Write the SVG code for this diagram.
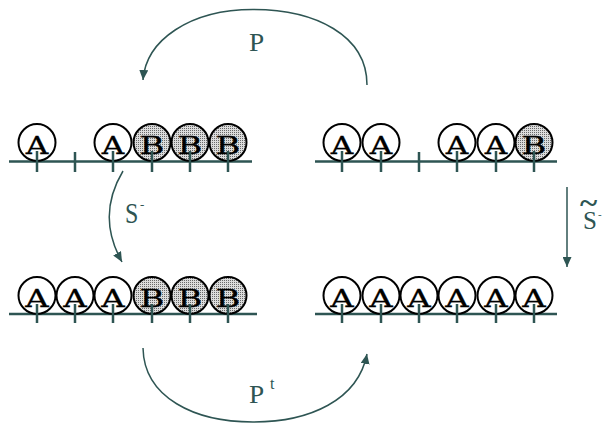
<svg xmlns="http://www.w3.org/2000/svg" width="602" height="423" viewBox="0 0 602 423">
<style>
.base{stroke:#2e5553;stroke-width:2.5;fill:none}
.tick{stroke:#2e5553;stroke-width:2.5}
.ca{fill:#fff;stroke:#000;stroke-width:2}
.cb{fill:url(#dots);stroke:#000;stroke-width:2}
.lt{font-family:"DejaVu Serif","Liberation Serif",serif;font-size:25px;fill:#000;stroke:#000;stroke-width:0.3;text-anchor:middle}
.arr{stroke:#2e5553;stroke-width:1.5;fill:none}
.lab{font-family:"Liberation Serif",serif;fill:#2e5553}
</style>
<defs>
<pattern id="dots" width="2" height="2" patternUnits="userSpaceOnUse">
<rect width="2" height="2" fill="#dcdcdc"/>
<rect width="1" height="1" fill="#6a6a6a"/>
</pattern>
<marker id="ah" markerWidth="11" markerHeight="9" refX="10" refY="4.5" orient="auto" markerUnits="userSpaceOnUse">
<path d="M0,0 L10,4.5 L0,9 z" fill="#2e5553"/>
</marker>
</defs>

<g id="connectors">
<path class="arr" d="M367,85 C367,35 315,9.5 253,9.5 C190,9.5 146,40 143,80" marker-end="url(#ah)"/>
<path class="arr" d="M123,171 Q96,216 122,262" marker-end="url(#ah)"/>
<line class="arr" x1="567" y1="187" x2="567" y2="267" marker-end="url(#ah)"/>
<path class="arr" d="M143,348 C144,398 195,422 253,422 C310,422 358,400 367,354" marker-end="url(#ah)"/>
</g>

<g id="labels">
<text class="lab" transform="translate(249,51) scale(1.05,1)" font-size="26">P</text>
<text class="lab" transform="translate(125,223) scale(0.8,1)" font-size="30">S</text>
<text class="lab" x="140" y="209" font-size="13">-</text>
<text class="lab" transform="translate(580,213) scale(1.1,1)" font-size="30" font-weight="bold">~</text>
<text class="lab" x="583" y="229" font-size="25">S</text>
<text class="lab" x="598" y="218" font-size="11">-</text>
<text class="lab" transform="translate(249,403) scale(1.05,1)" font-size="26">P</text>
<text class="lab" x="270" y="389" font-size="16">t</text>
</g>

<g id="row-top-left">
<line class="base" x1="9" y1="161.5" x2="252" y2="161.5"/>
<circle class="ca" cx="37" cy="142.5" r="18.5"/><text class="lt" transform="translate(37,153.5) scale(1.25,1)">A</text>
<circle class="ca" cx="113" cy="142.5" r="18.5"/><text class="lt" transform="translate(113,153.5) scale(1.25,1)">A</text>
<circle class="cb" cx="152" cy="142.5" r="18.5"/><text class="lt" transform="translate(152,153.5) scale(1.35,1)">B</text>
<circle class="cb" cx="190" cy="142.5" r="18.5"/><text class="lt" transform="translate(190,153.5) scale(1.35,1)">B</text>
<circle class="cb" cx="228" cy="142.5" r="18.5"/><text class="lt" transform="translate(228,153.5) scale(1.35,1)">B</text>
<path class="tick" d="M37,151V172M75,152V172M113,151V172M152,151V172M190,151V172M228,151V172"/>
</g>

<g id="row-top-right">
<line class="base" x1="315" y1="161.5" x2="557" y2="161.5"/>
<circle class="ca" cx="342" cy="142.5" r="18.5"/><text class="lt" transform="translate(342,153.5) scale(1.25,1)">A</text>
<circle class="ca" cx="381" cy="142.5" r="18.5"/><text class="lt" transform="translate(381,153.5) scale(1.25,1)">A</text>
<circle class="ca" cx="457" cy="142.5" r="18.5"/><text class="lt" transform="translate(457,153.5) scale(1.25,1)">A</text>
<circle class="ca" cx="496" cy="142.5" r="18.5"/><text class="lt" transform="translate(496,153.5) scale(1.25,1)">A</text>
<circle class="cb" cx="534" cy="142.5" r="18.5"/><text class="lt" transform="translate(534,153.5) scale(1.35,1)">B</text>
<path class="tick" d="M342,151V172M381,151V172M419,152V172M457,151V172M496,151V172M534,151V172"/>
</g>

<g id="row-bottom-left">
<line class="base" x1="9" y1="314" x2="257" y2="314"/>
<circle class="ca" cx="37" cy="295.5" r="18.5"/><text class="lt" transform="translate(37,306.5) scale(1.3,1)">A</text>
<circle class="ca" cx="75" cy="295.5" r="18.5"/><text class="lt" transform="translate(75,306.5) scale(1.3,1)">A</text>
<circle class="ca" cx="113" cy="295.5" r="18.5"/><text class="lt" transform="translate(113,306.5) scale(1.3,1)">A</text>
<circle class="cb" cx="152" cy="295.5" r="18.5"/><text class="lt" transform="translate(152,306.5) scale(1.35,1)">B</text>
<circle class="cb" cx="190" cy="295.5" r="18.5"/><text class="lt" transform="translate(190,306.5) scale(1.35,1)">B</text>
<circle class="cb" cx="228" cy="295.5" r="18.5"/><text class="lt" transform="translate(228,306.5) scale(1.35,1)">B</text>
<path class="tick" d="M37,304V323M75,304V323M113,304V323M152,304V323M190,304V323M228,304V323"/>
</g>

<g id="row-bottom-right">
<line class="base" x1="315" y1="314" x2="557" y2="314"/>
<circle class="ca" cx="342" cy="295.5" r="18.5"/><text class="lt" transform="translate(342,306.5) scale(1.3,1)">A</text>
<circle class="ca" cx="381" cy="295.5" r="18.5"/><text class="lt" transform="translate(381,306.5) scale(1.3,1)">A</text>
<circle class="ca" cx="419" cy="295.5" r="18.5"/><text class="lt" transform="translate(419,306.5) scale(1.3,1)">A</text>
<circle class="ca" cx="457" cy="295.5" r="18.5"/><text class="lt" transform="translate(457,306.5) scale(1.3,1)">A</text>
<circle class="ca" cx="496" cy="295.5" r="18.5"/><text class="lt" transform="translate(496,306.5) scale(1.3,1)">A</text>
<circle class="ca" cx="534" cy="295.5" r="18.5"/><text class="lt" transform="translate(534,306.5) scale(1.3,1)">A</text>
<path class="tick" d="M342,304V323M381,304V323M419,304V323M457,304V323M496,304V323M534,304V323"/>
</g>
</svg>
